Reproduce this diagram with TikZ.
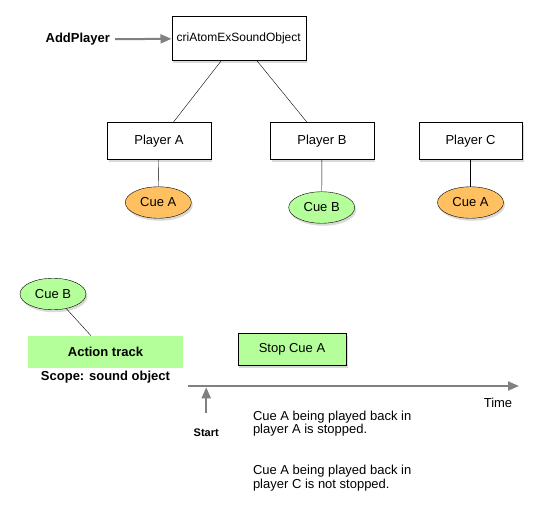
\documentclass[tikz,border=0pt]{standalone}
\usepackage{fontspec}
\setmainfont{Liberation Sans}
\usetikzlibrary{shapes.geometric,shadows,arrows.meta}
\definecolor{cueorange}{HTML}{FFC061}
\definecolor{cuegreen}{HTML}{B4FF99}
\definecolor{arrowgray}{HTML}{808080}
\tikzset{
	softshadow/.style={drop shadow={shadow xshift=1.5pt, shadow yshift=-2.5pt, opacity=0.3}},
	box/.style={
		draw,
		fill=white,
		softshadow,
		inner sep=0pt,
		align=center,
		font=\fontsize{13}{14}\selectfont
	},
	player/.style={box, minimum width=103.5pt, minimum height=37pt},
	cue/.style={
		ellipse,
		draw,
		softshadow,
		inner sep=0pt,
		minimum width=66pt,
		minimum height=31.5pt,
		font=\fontsize{13}{14}\selectfont
	},
	note/.style={inner sep=0pt, align=left, font=\fontsize{13}{13.3}\selectfont},
	label/.style={inner sep=0pt, font=\bfseries\fontsize{13}{14}\selectfont},
	grayarrow/.style={draw=arrowgray, line width=2pt, -{Triangle[length=11pt, width=9pt]}}
}

\begin{document}
\begin{tikzpicture}[x=1pt, y=-1pt]
\useasboundingbox (0,0) rectangle (542,509);
% sound object and its players
\node[box, minimum width=134pt, minimum height=44.5pt, font=\fontsize{12}{14}\selectfont] (obj) at (238.7,38.3) {criAtomExSoundObject};
\node[label] (addp) at (77.8,39.5) {AddPlayer};
\draw[grayarrow, shorten <=5pt] (addp) -- (obj);
\node[player] (pa) at (159,140.7) {Player A};
\node[player] (pb) at (322,140.7) {Player B};
\node[player] (pc) at (470.5,140.7) {Player C};
\node[cue, fill=cueorange] (cuea) at (158.3,202.5) {Cue A};
\node[cue, fill=cuegreen] (cueb) at (321.7,207.5) {Cue B};
\node[cue, fill=cueorange] (cuec) at (470.5,202.5) {Cue A};
\draw (obj) -- (pa);
\draw (obj) -- (pb);
\draw (pa) -- (cuea);
\draw (pb) -- (cueb);
\draw (pc) -- (cuec);
% action track
\node[cue, fill=cuegreen] (trackcue) at (53,294) {Cue B};
\node[fill=cuegreen, minimum width=155pt, minimum height=32pt, inner sep=0pt, label] (track) at (105.5,351.7) {Action track};
\draw (trackcue) -- (track);
\node[label] (scope) at (105.5,377) {Scope: sound object};
\node[box, fill=cuegreen, minimum width=108.6pt, minimum height=32pt] (stop) at (292,349.3) {Stop Cue A};
% time axis
\coordinate (axisl) at (187.9,386);
\coordinate (axisr) at (519,386);
\draw[grayarrow] (axisl) -- (axisr);
\node[note] (time) at (498,402.5) {Time};
\coordinate (startfoot) at (206.2,413);
\coordinate (starttip) at (206.2,387.3);
\draw[grayarrow] (startfoot) -- (starttip);
\node[label, font=\bfseries\fontsize{11}{12}\selectfont] (start) at (206.2,433) {Start};
\node[note, anchor=north west] (stopped) at (252.8,410.5) {Cue A being played back in\\player A is stopped.};
\node[note, anchor=north west] (notstopped) at (252.8,465.3) {Cue A being played back in\\player C is not stopped.};
\end{tikzpicture}
\end{document}
